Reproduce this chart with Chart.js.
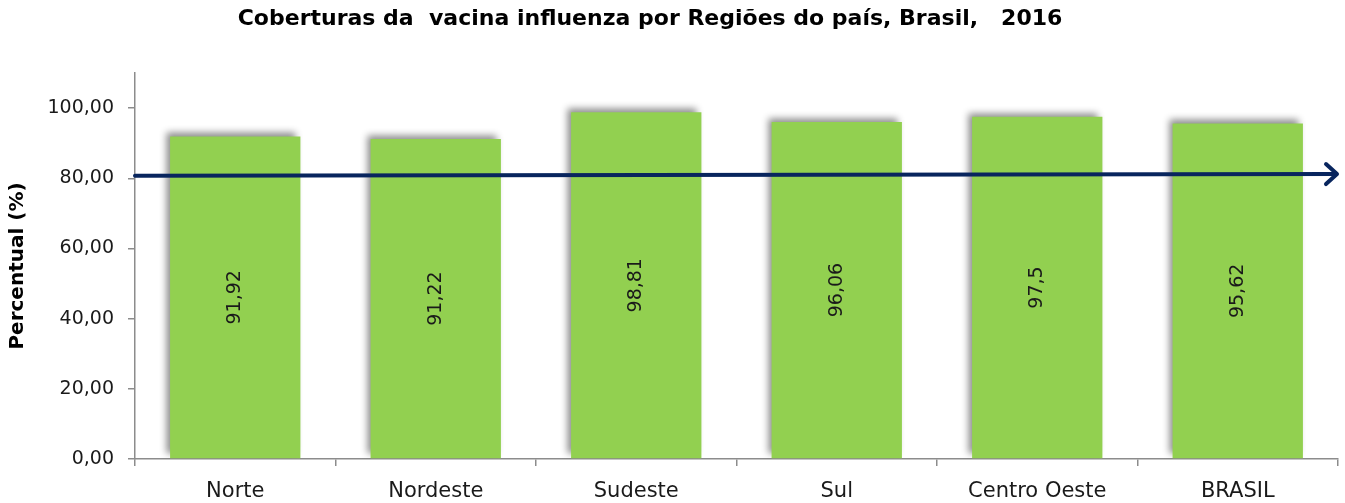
<!DOCTYPE html>
<html>
<head>
<meta charset="utf-8">
<script src="https://cdn.jsdelivr.net/npm/chart.js@4.4.1/dist/chart.umd.min.js"></script>
<style>
  html, body { margin: 0; padding: 0; background: #fff; }
  #wrap { width: 1345px; height: 503px; }
</style>
</head>
<body>
<div id="wrap"><canvas id="coberturaChart" width="1345" height="503"></canvas></div>
<script>
const regioes = ['Norte', 'Nordeste', 'Sudeste', 'Sul', 'Centro Oeste', 'BRASIL'];
const coberturas = [91.92, 91.22, 98.81, 96.06, 97.5, 95.62];
const yTicks = [0, 20, 40, 60, 80, 100];
const yMax = [110];
// meta (seta) from the left axis to the right end, in percent
const metaSeta = [80.7, 81.2];

const chartTitle = 'Coberturas da  vacina influenza por Regiões do país, Brasil,   2016';
const FONT = '"DejaVu Sans", sans-serif';

function virgula(v) {
  return String(v).replace('.', ',');
}

// draws the title a bit left of centre, like the original
const titlePlugin = {
  id: 'titleText',
  afterDraw(chart) {
    const ctx = chart.ctx;
    ctx.save();
    ctx.font = 'bold 22px ' + FONT;
    ctx.fillStyle = '#000';
    ctx.textAlign = 'center';
    ctx.textBaseline = 'middle';
    ctx.fillText(chartTitle, 650, 19);
    ctx.restore();
  }
};

// soft shadow up-left of the bars
const shadowPlugin = {
  id: 'barShadow',
  beforeDatasetDraw(chart) {
    const ctx = chart.ctx;
    ctx.save();
    ctx.shadowColor = 'rgba(0, 0, 0, 0.45)';
    ctx.shadowBlur = 7;
    ctx.shadowOffsetX = -4;
    ctx.shadowOffsetY = -4;
  },
  afterDatasetDraw(chart) {
    chart.ctx.restore();
  }
};

// values inside bars (rotated) and the arrow
const overlayPlugin = {
  id: 'overlay',
  afterDatasetsDraw(chart) {
    const ctx = chart.ctx;
    const y = chart.scales.y;
    const area = chart.chartArea;
    const meta = chart.getDatasetMeta(0);

    ctx.save();
    ctx.font = '19px ' + FONT;
    ctx.fillStyle = '#1a1a1a';
    ctx.textAlign = 'center';
    ctx.textBaseline = 'middle';
    meta.data.forEach((bar, i) => {
      const cy = (bar.y + bar.base) / 2;
      ctx.save();
      ctx.translate(bar.x, cy);
      ctx.rotate(-Math.PI / 2);
      ctx.fillText(virgula(coberturas[i]), 0, 0);
      ctx.restore();
    });

    const x0 = area.left;
    const x1 = area.right;
    const y0 = y.getPixelForValue(metaSeta[0]);
    const y1 = y.getPixelForValue(metaSeta[1]);
    ctx.strokeStyle = '#08255e';
    ctx.lineWidth = 4;
    ctx.lineCap = 'round';
    ctx.lineJoin = 'round';
    ctx.beginPath();
    ctx.moveTo(x0, y0);
    ctx.lineTo(x1 - 2, y1);
    ctx.stroke();
    ctx.beginPath();
    ctx.moveTo(x1 - 12, y1 - 10);
    ctx.lineTo(x1 - 1, y1);
    ctx.lineTo(x1 - 12, y1 + 10);
    ctx.stroke();
    ctx.restore();
  }
};

window.addEventListener('DOMContentLoaded', () => {
  const ctx = document.getElementById('coberturaChart').getContext('2d');

  new Chart(ctx, {
    type: 'bar',
    data: {
      labels: regioes,
      datasets: [{
        data: coberturas,
        backgroundColor: '#92d050',
        borderWidth: 0,
        categoryPercentage: 1,
        barPercentage: 0.65
      }]
    },
    options: {
      responsive: false,
      animation: false,
      devicePixelRatio: 1,
      layout: {
        padding: { top: 73, right: 7, bottom: 0, left: 0 }
      },
      plugins: {
        legend: { display: false },
        tooltip: { enabled: false },
        title: { display: false }
      },
      scales: {
        x: {
          grid: {
            display: true,
            offset: true,
            drawOnChartArea: false,
            drawTicks: true,
            tickLength: 7,
            color: '#8c8c8c',
            lineWidth: 1.5
          },
          border: { color: '#8c8c8c', width: 1.5 },
          ticks: {
            color: '#1a1a1a',
            padding: 13,
            font: { family: FONT, size: 21 },
            maxRotation: 0
          },
          afterFit: scale => { scale.height = 44; }
        },
        y: {
          min: 0,
          max: yMax[0],
          grid: {
            drawOnChartArea: false,
            drawTicks: true,
            tickLength: 7,
            color: '#8c8c8c',
            lineWidth: 1.5
          },
          border: { color: '#8c8c8c', width: 1.5 },
          ticks: {
            color: '#1a1a1a',
            padding: 14,
            font: { family: FONT, size: 19 },
            callback: value => value.toFixed(2).replace('.', ',')
          },
          afterBuildTicks: scale => {
            scale.ticks = yTicks.map(v => ({ value: v }));
          },
          afterFit: scale => { scale.width = 135; },
          title: {
            display: true,
            text: 'Percentual (%)',
            color: '#000',
            font: { family: FONT, size: 20, weight: 'bold' },
            padding: { top: 6, bottom: 4 }
          }
        }
      }
    },
    plugins: [titlePlugin, shadowPlugin, overlayPlugin]
  });
});
</script>
</body>
</html>
